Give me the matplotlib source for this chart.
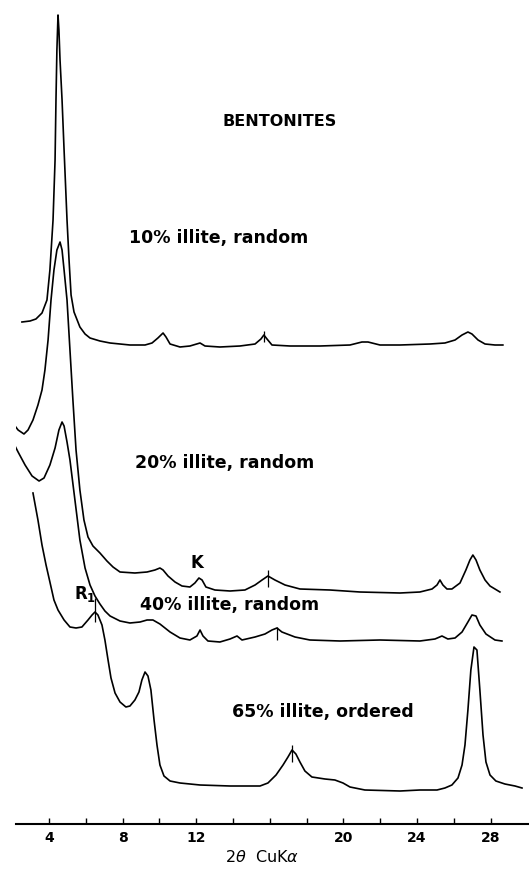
import matplotlib
matplotlib.use("Agg")
import matplotlib.pyplot as plt
import numpy as np

# XRD traces of bentonites (2theta in degrees, intensity in arbitrary units
# above each trace's own baseline)
tt_10 = [2.53, 2.97, 3.29, 3.62, 3.89, 4.05, 4.22, 4.33, 4.38, 4.43, 4.49, 4.54, 4.60, 4.71, 4.82,
         4.98, 5.09, 5.20, 5.36, 5.68, 5.96, 6.23, 6.77, 7.32, 8.40, 9.22, 9.60, 9.92, 10.20, 10.36,
         10.58, 11.12, 11.66, 12.21, 12.48, 13.29, 14.38, 15.20, 15.52, 15.68, 15.85, 16.12, 17.10,
         18.73, 20.36, 21.01, 21.34, 21.99, 23.08, 24.71, 25.52, 26.07, 26.45, 26.77, 26.99, 27.32,
         27.70, 28.24, 28.67]
int_10 = [23, 24, 26, 32, 45, 75, 125, 185, 245, 295, 330, 315, 285, 245, 195,
          125, 85, 50, 33, 18, 11, 7, 4, 2, 0, 0, 2, 7, 12, 8,
          1, -2, -1, 2, -1, -2, -1, 1, 6, 10, 6, 0, -1,
          -1, 0, 3, 3, 0, 0, 1, 2, 5, 10, 13, 11, 5,
          1, 0, 0]

tt_20 = [1.99, 2.32, 2.64, 2.86, 3.13, 3.40, 3.62, 3.78, 3.95, 4.11, 4.27, 4.43, 4.60, 4.71, 4.82,
         4.98, 5.14, 5.30, 5.47, 5.68, 5.90, 6.12, 6.39, 6.77, 7.15, 7.48, 7.86, 8.67, 9.33, 9.76,
         10.03, 10.20, 10.47, 10.85, 11.23, 11.66, 11.93, 12.15, 12.32, 12.53, 13.02, 13.84, 14.65,
         15.20, 15.58, 15.90, 16.28, 16.83, 17.64, 19.27, 20.90, 23.08, 24.16, 24.82, 25.09, 25.25,
         25.41, 25.63, 25.90, 26.34, 26.66, 26.88, 27.04, 27.21, 27.42, 27.70, 27.97, 28.51]
int_20 = [168, 160, 156, 160, 170, 185, 200, 220, 250, 290, 320, 340, 348, 340, 320,
          290, 240, 190, 140, 100, 70, 53, 44, 37, 29, 23, 18, 17, 18, 20,
          22, 20, 14, 8, 4, 3, 7, 12, 10, 3, 0, -1, 0,
          5, 10, 14, 10, 5, 1, 0, -2, -3, -2, 1, 5, 10,
          5, 1, 1, 7, 20, 30, 35, 30, 20, 10, 4, -2]

tt_40 = [1.99, 2.32, 2.70, 3.08, 3.46, 3.73, 4.05, 4.33, 4.54, 4.71, 4.82, 4.98, 5.14, 5.41, 5.68,
         5.96, 6.23, 6.50, 6.77, 7.04, 7.32, 7.86, 8.40, 8.95, 9.33, 9.65, 10.03, 10.58, 11.12,
         11.66, 12.04, 12.21, 12.37, 12.64, 13.29, 13.84, 14.22, 14.49, 15.20, 15.74, 16.12, 16.39,
         16.66, 17.37, 18.18, 19.82, 21.99, 24.16, 24.98, 25.36, 25.68, 26.07, 26.45, 26.77, 26.99,
         27.21, 27.42, 27.75, 28.24, 28.62]
int_40 = [200, 188, 175, 164, 159, 162, 175, 192, 210, 218, 214, 198, 180, 140, 100,
          72, 55, 44, 36, 29, 24, 19, 17, 18, 20, 20, 16, 8, 2,
          0, 4, 10, 4, -1, -2, 1, 4, 0, 3, 6, 10, 12,
          8, 3, 0, -1, 0, -1, 1, 4, 1, 2, 8, 18, 25,
          24, 15, 6, 0, -1]

tt_65 = [3.13, 3.40, 3.62, 3.84, 4.05, 4.27, 4.49, 4.82, 5.14, 5.47, 5.79, 6.12, 6.34, 6.50, 6.66,
         6.88, 7.04, 7.21, 7.37, 7.59, 7.86, 8.18, 8.40, 8.67, 8.89, 9.05, 9.22, 9.38, 9.54, 9.71,
         9.87, 10.03, 10.25, 10.58, 11.12, 12.21, 13.84, 15.47, 15.90, 16.34, 16.72, 16.99, 17.21,
         17.42, 17.64, 17.91, 18.29, 19.00, 19.54, 19.98, 20.36, 21.17, 23.08, 24.16, 25.09, 25.52,
         25.90, 26.23, 26.45, 26.61, 26.77, 26.93, 27.10, 27.26, 27.42, 27.59, 27.75, 27.97, 28.29,
         28.78, 29.33, 29.71]
int_65 = [295, 268, 243, 223, 206, 188, 178, 168, 161, 160, 161, 168, 173, 176, 173,
          163, 148, 128, 110, 95, 86, 81, 82, 88, 96, 108, 116, 112, 98, 68,
          43, 23, 12, 7, 5, 3, 2, 2, 5, 13, 23, 31, 38,
          34, 26, 17, 11, 9, 8, 5, 1, -2, -3, -2, -2, 0,
          3, 10, 23, 43, 78, 118, 141, 138, 98, 53, 26, 13, 7,
          4, 2, 0]

traces = [(tt_10, int_10), (tt_20, int_20), (tt_40, int_40), (tt_65, int_65)]
offsets = [479, 234, 184, 36]
labels = ["10% illite, random", "20% illite, random", "40% illite, random", "65% illite, ordered"]
label_pos = [(8.35, 586), (8.67, 361), (8.95, 219), (13.95, 112)]

# peak marks: (trace index, 2theta, low, high)
marks = [(0, 15.68, 3, 14), (1, 15.90, 3, 20), (2, 16.39, 0, 13), (3, 6.50, 166, 190), (3, 17.21, 26, 43)]

ticks_major = [4, 8, 12, 20, 24, 28]
ticks_all = np.arange(4, 29, 2)

fig = plt.figure(figsize=(5.29, 8.69), dpi=100)
ax = fig.add_axes([16 / 529, 45 / 869, 513 / 529, 824 / 869])

for (tt, inten), off in zip(traces, offsets):
    ax.plot(tt, np.array(inten) + off, color="black", lw=1.2, solid_joinstyle="round")

for i, x, lo, hi in marks:
    ax.vlines(x, offsets[i] + lo, offsets[i] + hi, color="black", lw=0.9)

for txt, (x, y) in zip(labels, label_pos):
    ax.text(x, y, txt, ha="left", va="center", fontsize=12.5, fontweight="bold")

ax.text(16.53, 703, "BENTONITES", ha="center", va="center", fontsize=11.5, fontweight="bold")
ax.text(12.04, 261, "K", ha="center", va="center", fontsize=12, fontweight="bold")
ax.text(5.96, 230, r"R$_\mathregular{1}$", ha="center", va="center", fontsize=12, fontweight="bold")

ax.set_xlim(2.207, 30.09)
ax.set_ylim(0, 824)
for s in ["left", "right", "top"]:
    ax.spines[s].set_visible(False)
ax.spines["bottom"].set_linewidth(1.5)
ax.set_yticks([])
ax.set_xticks(ticks_all)
ax.set_xticklabels([str(t) if t in ticks_major else "" for t in ticks_all])
ax.tick_params(axis="x", direction="in", length=4, width=1, pad=5, labelsize=10)
for lab in ax.get_xticklabels():
    lab.set_fontweight("bold")

ax.set_xlabel(r"2$\theta$  CuK$\alpha$", fontsize=11.5)
ax.xaxis.set_label_coords(0.48, -0.030)

fig.savefig("out.png", dpi=100)
plt.close(fig)
